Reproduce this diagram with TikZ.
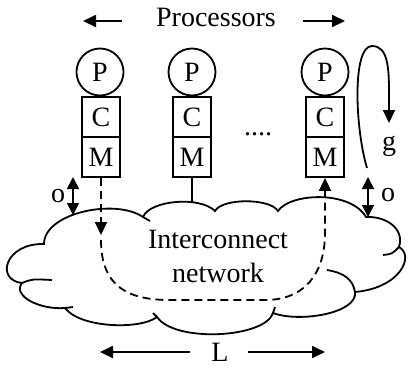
\documentclass[tikz,border=0pt]{standalone}
\usepackage{fontspec}
\setmainfont{Liberation Serif}
\usetikzlibrary{arrows.meta}

\begin{document}
\begin{tikzpicture}[x=1pt,y=1pt,line width=1.8pt,
		every node/.style={font=\fontsize{28}{32}\selectfont},
		proc/.style={draw,circle,minimum size=47pt,inner sep=0pt},
		mem/.style={draw,rectangle,minimum width=38pt,minimum height=40pt,inner sep=0pt},
		tip/.style={-{Triangle[length=13pt,width=12pt]}},
		tips/.style={{Triangle[length=12pt,width=12pt]}-{Triangle[length=12pt,width=12pt]}},
		msg/.style={dash pattern=on 8pt off 5pt}]
		\useasboundingbox (0,0) rectangle (409,368);
		
		% processors
		\node[anchor=base](top)at(216,342) {Processors};
		\coordinate(pl1)at(122,347); \coordinate(pl2)at(83,347);
		\coordinate(pr1)at(303,347); \coordinate(pr2)at(345,347);
		\draw[tip](pl1) -- (pl2);
		\draw[tip](pr1) -- (pr2);
		
		\node[proc](p1)at(100,296) {P};
		\node[proc](p2)at(192,296) {P};
		\node[proc](p3)at(325,296) {P};
		\node[mem](c1)at(101,251) {C};
		\node[mem](m1)at(101,211) {M};
		\node[mem](c2)at(192,251) {C};
		\node[mem](m2)at(192,211) {M};
		\node[mem](c3)at(325,251) {C};
		\node[mem](m3)at(325,211) {M};
		\node[anchor=base](dots)at(258,233) {....};
		
		% cloud
		\draw (44,124) .. controls (44,155) and (115,170) .. (143,151)
			.. controls (150,168) and (200,172) .. (215,157)
			.. controls (222,170) and (270,170) .. (278,157)
			.. controls (290,175) and (350,178) .. (366,151)
			.. controls (385,152) and (405,140) .. (399,121)
			.. controls (415,112) and (400,80) .. (355,76)
			.. controls (358,55) and (300,45) .. (273,55)
			.. controls (265,30) and (175,25) .. (157,51)
			.. controls (140,38) and (80,40) .. (65,60)
			.. controls (40,58) and (12,72) .. (22,85)
			.. controls (-5,88) and (5,125) .. (44,124) -- cycle;
		\draw (22,85) .. controls (32,89) .. (52,88);
		\draw (399,121) .. controls (392,114) .. (383,113);
		\draw (327,98) .. controls (345,95) and (353,88) .. (355,76);
		\draw (143,151) -- (150,147);
		\draw (65,60) -- (73,61);
		\draw (157,51) -- (153,55);
		\draw (273,55) -- (275,61);
		\node[anchor=base](net1)at(218,120) {Interconnect};
		\node[anchor=base](net2)at(218,86) {network};
		
		\coordinate(cl)at(192,166);
		\draw(m2) -- (cl);
		
		% overhead o
		\coordinate(oa1)at(73,191); \coordinate(oa2)at(73,153);
		\coordinate(ob1)at(368,191); \coordinate(ob2)at(368,151);
		\draw[tips](oa1) -- (oa2);
		\draw[tips](ob1) -- (ob2);
		\node(ol)at(58,172) {o};
		\node(or)at(388,173) {o};
		
		% gap g
		\coordinate(gs)at(367,200); \coordinate(gt)at(389,245);
		\draw[tip](gs) .. controls (355,240) and (352,322) .. (372,322)
			.. controls (388,322) and (389,300) .. (389,275) -- (gt);
		\node[anchor=base](g)at(389,218) {g};
		
		% message path
		\coordinate(d1)at(101,133); \coordinate(d2)at(101,128);
		\draw[msg,tip](m1) -- (d1);
		\draw[msg,tip](d2) .. controls (101,80) and (130,68) .. (170,68) -- (265,68)
			.. controls (305,68) and (325,95) .. (325,135) -- (m3);
		
		% latency L
		\node[anchor=base,inner sep=1pt](L)at(220,6.5) {L};
		\coordinate(la1)at(190,16); \coordinate(la2)at(100,16);
		\coordinate(lb1)at(248,16); \coordinate(lb2)at(325,16);
		\draw[tip](la1) -- (la2);
		\draw[tip](lb1) -- (lb2);
	\end{tikzpicture}
\end{document}
